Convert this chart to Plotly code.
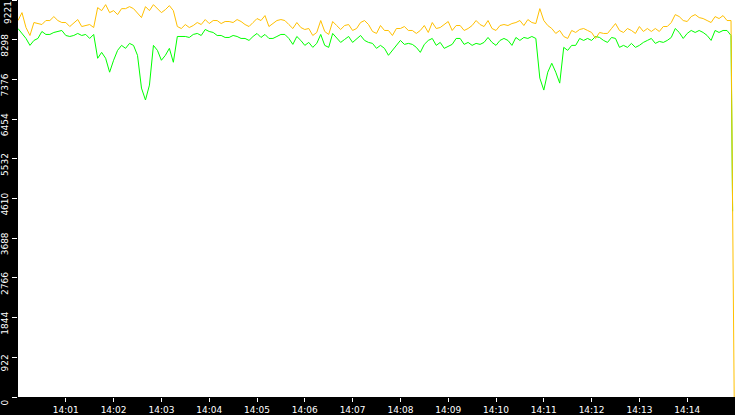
import numpy as np
import pandas as pd
import plotly.graph_objects as go

# ---------------------------------------------
# data (one sample every 5 s from 14:00:00)
# ---------------------------------------------
start = pd.Timestamp("2024-01-01 14:00:00")
step_s = 5

yellow_vals = [
    8744, 8928, 8582, 8397, 8698, 8674, 8651, 8744, 8744, 8836,
    8744, 8698, 8698, 8605, 8698, 8767, 8605, 8628, 8651, 8582,
    9044, 8974, 9113, 8928, 8974, 8882, 9020, 9020, 9067, 9020,
    8928, 8813, 9067, 8974, 9113, 9020, 8928, 8997, 9090, 8974,
    8605, 8559, 8651, 8582, 8628, 8698, 8651, 8767, 8674, 8744,
    8744, 8674, 8721, 8721, 8698, 8767, 8721, 8651, 8605, 8698,
    8790, 8744, 8859, 8605, 8674, 8744, 8767, 8744, 8651, 8559,
    8698, 8582, 8536, 8559, 8397, 8467, 8744, 8490, 8421, 8721,
    8628, 8536, 8628, 8651, 8513, 8559, 8698, 8744, 8651, 8490,
    8444, 8628, 8513, 8513, 8397, 8559, 8559, 8605, 8513, 8513,
    8444, 8513, 8628, 8467, 8698, 8559, 8582, 8651, 8721, 8513,
    8628, 8628, 8513, 8559, 8628, 8744, 8651, 8605, 8744, 8559,
    8513, 8628, 8651, 8628, 8674, 8698, 8744, 8628, 8767, 8698,
    8674, 9020, 8744, 8628, 8559, 8444, 8513, 8374, 8328, 8513,
    8467, 8536, 8559, 8513, 8467, 8328, 8467, 8444, 8444, 8559,
    8674, 8513, 8467, 8559, 8513, 8444, 8605, 8490, 8559, 8490,
    8559, 8490, 8605, 8605, 8698, 8882, 8836, 8744, 8721, 8836,
    8882, 8813, 8790, 8744, 8698, 8836, 8790, 8859, 8744, 8744,
]

green_vals = [
    8559, 8444, 8328, 8167, 8282, 8328, 8490, 8421, 8421, 8467,
    8490, 8513, 8397, 8374, 8397, 8444, 8397, 8421, 8328, 8421,
    7867, 8005, 7867, 7544, 7821, 8051, 8167, 8098, 8213, 8167,
    7936, 7175, 6898, 7244, 8167, 8051, 7821, 7936, 8098, 7775,
    8374, 8374, 8374, 8351, 8421, 8444, 8397, 8536, 8490, 8467,
    8397, 8397, 8351, 8351, 8397, 8374, 8328, 8328, 8282, 8374,
    8444, 8351, 8421, 8328, 8328, 8374, 8421, 8421, 8328, 8190,
    8374, 8282, 8167, 8236, 8121, 8213, 8421, 8167, 8121, 8444,
    8351, 8236, 8305, 8374, 8236, 8328, 8397, 8282, 8236, 8213,
    8098, 8167, 8098, 7936, 8051, 8167, 8282, 8190, 8213, 8190,
    8121, 8005, 8190, 8282, 8328, 8167, 8236, 8098, 8144, 8190,
    8328, 8328, 8190, 8236, 8167, 8213, 8190, 8236, 8351, 8236,
    8167, 8282, 8328, 8282, 8167, 8351, 8282, 8351, 8328, 8374,
    8328, 7406, 7129, 7544, 7752, 7544, 7290, 8121, 8051, 8167,
    8167, 8328, 8282, 8328, 8282, 8374, 8351, 8282, 8236, 8351,
    8328, 8121, 8167, 8121, 8213, 8121, 8167, 8236, 8282, 8328,
    8213, 8259, 8236, 8282, 8351, 8559, 8467, 8328, 8444, 8513,
    8467, 8513, 8467, 8397, 8282, 8513, 8467, 8513, 8513, 8397,
]

# last samples where both series fall away at the right edge
green_end_s, green_end_val = 897, 4314
yellow_end_s, yellow_end_val = 899, 0

y_max = 9221
y_tick_labels = ["0", "922", "1844", "2766", "3688", "4610",
                 "5532", "6454", "7376", "8298", "9221"]
x_tick_labels = ["14:01", "14:02", "14:03", "14:04", "14:05", "14:06", "14:07",
                 "14:08", "14:09", "14:10", "14:11", "14:12", "14:13", "14:14"]

# -------------------------
# build x values
# -------------------------
t = [start + pd.Timedelta(seconds=i * step_s) for i in range(len(yellow_vals))]
t_green = t + [start + pd.Timedelta(seconds=green_end_s)]
t_yellow = t + [start + pd.Timedelta(seconds=yellow_end_s)]
g = green_vals + [green_end_val]
yv = yellow_vals + [yellow_end_val]

x_tickvals = [pd.Timestamp("2024-01-01 " + s) for s in x_tick_labels]
y_tickvals = [float(s) for s in y_tick_labels]

fig = go.Figure()
fig.add_trace(go.Scatter(x=t_green, y=g, mode="lines",
                         line=dict(color="#00ff00", width=1), hoverinfo="skip"))
fig.add_trace(go.Scatter(x=t_yellow, y=yv, mode="lines",
                         line=dict(color="#ffc000", width=1), hoverinfo="skip"))

fig.update_layout(
    width=735, height=415,
    margin=dict(l=16, r=0, t=0, b=16),
    paper_bgcolor="black",
    plot_bgcolor="white",
    showlegend=False,
    font=dict(family="DejaVu Sans", size=9, color="white"),
)
fig.update_xaxes(
    range=[start, start + pd.Timedelta(minutes=15)],
    tickvals=x_tickvals, ticktext=x_tick_labels,
    ticks="outside", ticklen=4, tickcolor="white",
    showgrid=False, zeroline=False, showline=False,
    tickfont=dict(size=9, color="white"),
)
fig.update_yaxes(
    range=[0, y_max],
    tickvals=y_tickvals, ticktext=y_tick_labels,
    ticks="outside", ticklen=5, tickcolor="white",
    tickangle=-90, ticklabelshift=7,
    showgrid=False, zeroline=False, showline=False,
    tickfont=dict(size=9, color="white"),
)

# plotly drops the label sitting on the very top edge, so draw it as text
fig.add_annotation(
    text=y_tick_labels[-1], xref="paper", x=0, xshift=-10, xanchor="center",
    yref="y", y=y_tickvals[-1], yshift=-13, yanchor="middle",
    textangle=-90, showarrow=False, font=dict(size=9, color="white"),
)

fig.write_html("out.html", config={"displayModeBar": False},
               post_script="document.body.style.margin='0';document.body.style.overflow='hidden';")
